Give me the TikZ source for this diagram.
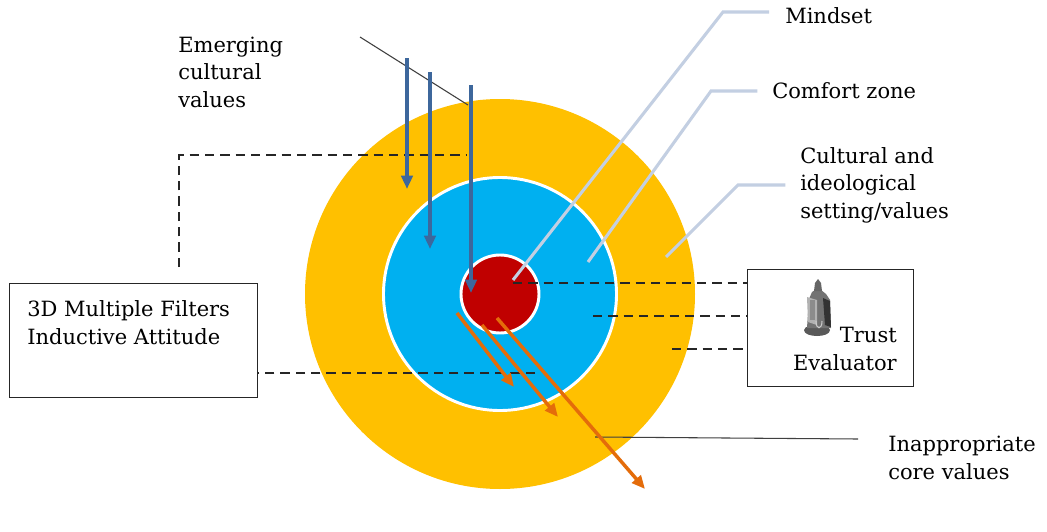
\documentclass[tikz,border=0pt]{standalone}
\usepackage{fontspec}
\setmainfont{DejaVu Serif}
\usetikzlibrary{arrows.meta}
\definecolor{ringY}{HTML}{FFC000}
\definecolor{ringB}{HTML}{00B0F0}
\definecolor{ringR}{HTML}{C00000}
\definecolor{arrB}{HTML}{3D679C}
\definecolor{arrO}{HTML}{E46C0A}
\definecolor{leadC}{HTML}{C3CFE2}
\begin{document}
\begin{tikzpicture}[x=0.75pt,y=-0.75pt,
 lbl/.style={font=\fontsize{15.75}{20.6}\selectfont, inner sep=0pt, align=left, text=black},
 boxst/.style={draw=black!85, line width=0.9pt, fill=white},
 dsh/.style={draw=black!85, line width=1.1pt, dash pattern=on 7pt off 4.5pt},
 bluearr/.style={draw=arrB, line width=3pt, -{Triangle[length=10pt,width=8.5pt]}},
 orarr/.style={draw=arrO, line width=2.6pt, -{Triangle[length=10pt,width=8.5pt]}},
 leader/.style={draw=leadC, line width=2.3pt},
 thinln/.style={draw=black!75, line width=0.8pt}]
\useasboundingbox (0,0) rectangle (1047,532);
\fill[white] (0,0) rectangle (1047,532);

% rings
\node[circle, fill=ringY, inner sep=0pt, minimum size=292.5pt] (outer) at (500,294) {};
\node[circle, fill=ringB, draw=white, line width=2.2pt, inner sep=0pt, minimum size=174.75pt] (comfort) at (500,294) {};
\node[circle, fill=ringR, draw=white, line width=2.2pt, inner sep=0pt, minimum size=58.5pt] (core) at (500,294) {};

% boxes
\node[boxst, anchor=north west, minimum width=186pt, minimum height=85.5pt, inner sep=0pt] (filters) at (9,283) {};
\node[lbl, anchor=base west] (filterstxt) at (27,344) {3D Multiple Filters\\Inductive Attitude};
\node[boxst, anchor=north west, minimum width=124.5pt, minimum height=87.75pt, inner sep=0pt] (trust) at (747,269) {};
\node[lbl, anchor=base east, align=right] (trusttxt) at (897,370) {Trust\\Evaluator};

% knight figure
\begin{scope}
\fill[black!65] (804,330) .. controls (804,338) and (830,338) .. (830,330) -- (828,327) -- (806,327) -- cycle;
\fill[black!55] (809,299) -- (812,292) -- (815,290) -- (821,290) -- (826,294) -- (830,300) -- (831,328) -- (807,328) -- cycle;
\fill[black!60] (814,291) -- (815,283) -- (818,279) -- (821,283) -- (822,291) -- cycle;
\fill[black!30] (807,297) -- (817,300) -- (817,325) -- (808,322) -- cycle;
\fill[black!45] (810,300) rectangle (815,320);
\fill[black!80] (823,298) -- (830,301) -- (831,327) -- (825,325) -- cycle;
\draw[black!20, line width=0.8pt] (816,321) .. controls (816,330) and (822,330) .. (822,321);
\end{scope}

% labels
\node[lbl, anchor=west] (emerging) at (178,72) {Emerging\\cultural\\values};
\node[lbl, anchor=base west] (mindset) at (785,23) {Mindset};
\node[lbl, anchor=base west] (comfortlbl) at (772,98) {Comfort zone};
\node[lbl, anchor=west] (cultural) at (800,185) {Cultural and\\ideological\\setting/values};
\node[lbl, anchor=west] (inappr) at (888,458) {Inappropriate\\core values};

% coordinates
\coordinate (d1) at (179,267);
\coordinate (d2) at (179,155);
\coordinate (d3) at (467,155);
\coordinate (f1) at (535,373);
\coordinate (t1) at (513,283);
\coordinate (t2) at (593,316);
\coordinate (t3) at (672,349);
\coordinate (e1) at (360,37);
\coordinate (e2) at (468,105);
\coordinate (ba1) at (407,58);  \coordinate (bb1) at (407,189);
\coordinate (ba2) at (430,72);  \coordinate (bb2) at (430,249);
\coordinate (ba3) at (471,85);  \coordinate (bb3) at (471,293);
\coordinate (oa1) at (457,313); \coordinate (ob1) at (514,387);
\coordinate (oa2) at (482,325); \coordinate (ob2) at (558,417);
\coordinate (oa3) at (497,318); \coordinate (ob3) at (645,489);
\coordinate (i1) at (595,437);  \coordinate (i2) at (858,439);
\coordinate (m1) at (513,280);  \coordinate (m2) at (723,12);
\coordinate (c1) at (588,262);  \coordinate (c2) at (711,91);
\coordinate (s1) at (666,257);  \coordinate (s2) at (738,185);

% dashed connectors
\draw[dsh] (d1) -- (d2) -- (d3);
\draw[dsh] (f1) -- (f1 -| filters.east);
\draw[dsh] (t1) -- (t1 -| trust.west);
\draw[dsh] (t2) -- (t2 -| trust.west);
\draw[dsh] (t3) -- (t3 -| trust.west);

% thin lines
\draw[thinln] (e1) -- (e2);
\draw[thinln] (i1) -- (i2);

% blue arrows
\draw[bluearr] (ba1) -- (bb1);
\draw[bluearr] (ba2) -- (bb2);
\draw[bluearr] (ba3) -- (bb3);

% orange arrows
\draw[orarr] (oa1) -- (ob1);
\draw[orarr] (oa2) -- (ob2);
\draw[orarr] (oa3) -- (ob3);

% leaders
\draw[leader] (m1) -- (m2) -- ([xshift=-12pt]m2 -| mindset.west);
\draw[leader] (c1) -- (c2) -- ([xshift=-11pt]c2 -| comfortlbl.west);
\draw[leader] (s1) -- (s2) -- ([xshift=-11pt]s2 -| cultural.west);
\end{tikzpicture}
\end{document}
